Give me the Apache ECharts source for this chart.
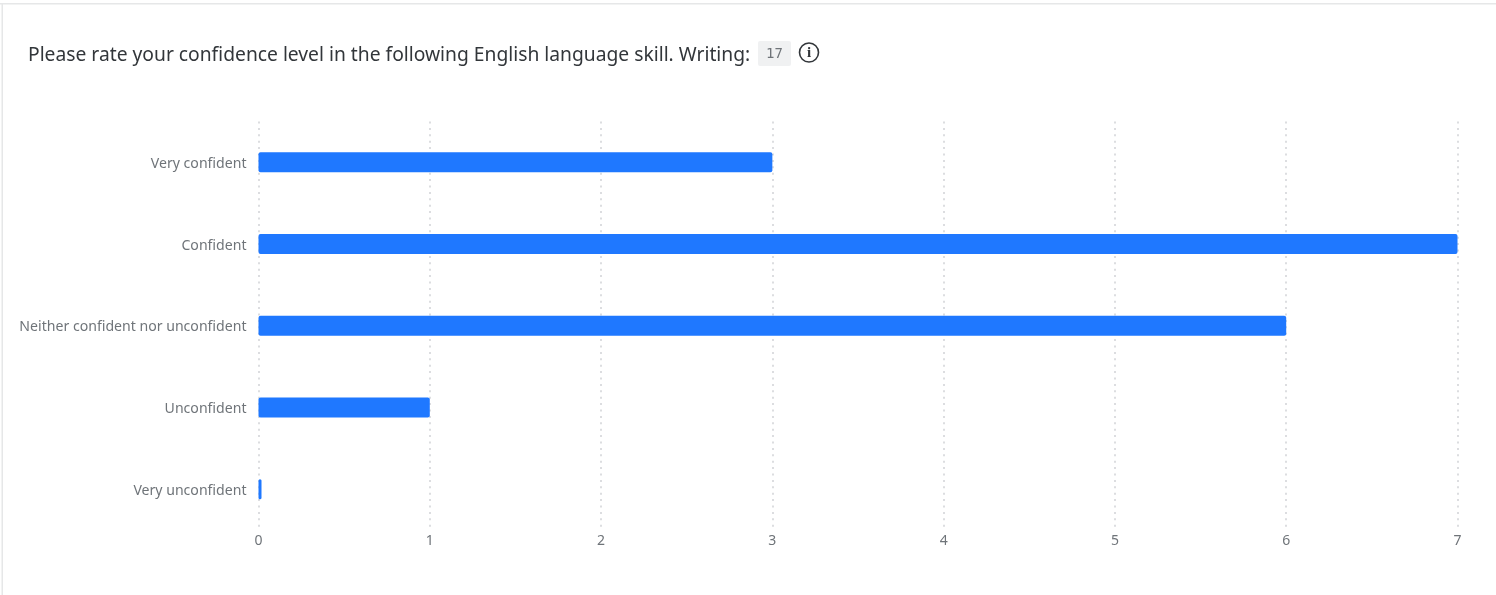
<!DOCTYPE html>
<html>
<head>
<meta charset="utf-8">
<style>
  html, body { margin: 0; padding: 0; background: #fff; }
  #chart { width: 1496px; height: 595px; }
</style>
<script src="https://cdn.jsdelivr.net/npm/echarts@6/dist/echarts.min.js"></script>
</head>
<body>
<div id="chart"></div>
<script>
const questionTitle = 'Please rate your confidence level in the following English language skill. Writing:';
const responseCount = '17';
const categories = ['Very confident', 'Confident', 'Neither confident nor unconfident', 'Unconfident', 'Very unconfident'];
const counts = [3, 7, 6, 1, 0];
const axisTicks = { min: 0, max: 7, interval: 1 };

const FONT = '"Noto Sans", "Open Sans", sans-serif';
const chart = echarts.init(document.getElementById('chart'), null, { renderer: 'canvas' });

chart.setOption({
  animation: false,
  backgroundColor: '#ffffff',
  title: {
    text: questionTitle,
    left: 23,
    top: 38.5,
    textStyle: { fontFamily: FONT, fontSize: 19.25, fontWeight: 'normal', color: '#32363a', lineHeight: 24 }
  },
  grid: { left: 258.5, right: 38.5, top: 121.5, bottom: 65 },
  xAxis: {
    type: 'value',
    min: axisTicks.min,
    max: axisTicks.max,
    interval: axisTicks.interval,
    axisLine: { show: false },
    axisTick: { show: false },
    axisLabel: { fontFamily: FONT, fontSize: 14, color: '#6f7479', margin: 4 },
    splitLine: { show: true, lineStyle: { color: '#dcdde0', width: 2, type: [2, 4.4] } }
  },
  yAxis: {
    type: 'category',
    inverse: true,
    data: categories,
    axisLine: { show: false },
    axisTick: { show: false },
    // A short line box hung from the tick sets the labels just under the band centre
    axisLabel: { fontFamily: FONT, fontSize: 14.1, color: '#6f7479', margin: 12, verticalAlign: 'top', lineHeight: 3 }
  },
  series: [{
    type: 'bar',
    data: counts,
    barWidth: 20,
    barMinHeight: 3,
    itemStyle: { color: '#1f78ff', borderRadius: 2 }
  }],
  graphic: [
    // Card edges
    { type: 'rect', silent: true, shape: { x: 0, y: 3, width: 1496, height: 1.5 }, style: { fill: '#e6e7e8' } },
    { type: 'rect', silent: true, shape: { x: 1.5, y: 3, width: 1.5, height: 592 }, style: { fill: '#e6e7e8' } },
    // Response count badge
    { type: 'rect', silent: true, shape: { x: 758, y: 41, width: 33, height: 25, r: 2 }, style: { fill: '#f0f1f2' } },
    { type: 'text', silent: true, x: 774.5, y: 54,
      style: { text: responseCount, fontFamily: '"DejaVu Sans Mono", monospace', fontSize: 14, fill: '#6f7479', align: 'center', verticalAlign: 'middle' } },
    // Info icon
    { type: 'circle', silent: true, shape: { cx: 809, cy: 52.5, r: 9.5 }, style: { fill: 'none', stroke: '#32363a', lineWidth: 1.6 } },
    { type: 'text', silent: true, x: 809, y: 53,
      style: { text: 'i', fontFamily: '"Liberation Serif", serif', fontWeight: 'bold', fontSize: 15, fill: '#32363a', align: 'center', verticalAlign: 'middle' } }
  ]
});
</script>
</body>
</html>
